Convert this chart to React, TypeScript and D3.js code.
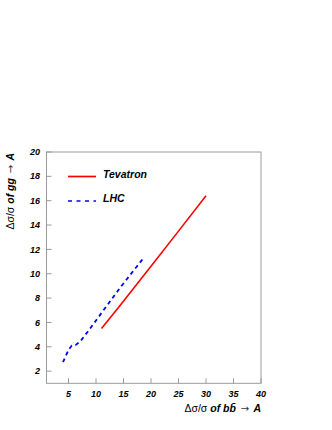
import React, { useRef, useEffect } from 'react'
import * as d3 from 'd3'

// Tevatron curve (solid red)
const tevX = [11, 14.3, 20, 25, 30]
const tevY = [5.5, 7.35, 10.62, 13.5, 16.4]

// LHC curve (dashed blue)
const lhcX = [4, 5, 5.6, 6.3, 7.1, 8.5, 14.3, 18.6]
const lhcY = [2.73, 3.74, 4.1, 4.15, 4.42, 5.24, 8.8, 11.27]

const xTicks = [5, 10, 15, 20, 25, 30, 35, 40]
const yTicks = [2, 4, 6, 8, 10, 12, 14, 16, 18, 20]

const legendNames = ['Tevatron', 'LHC']

export default function App() {
  const ref = useRef<SVGSVGElement>(null)

  useEffect(() => {
    const width = 332
    const height = 430
    const frame = { left: 46.5, right: 261, top: 152, bottom: 383.3 }

    const svg = d3.select(ref.current)
    svg.selectAll('*').remove()
    svg.attr('width', width).attr('height', height)

    const x = d3.scaleLinear().domain([1, 40]).range([frame.left, frame.right])
    const y = d3.scaleLinear().domain([1, 20]).range([frame.bottom, frame.top])

    const frameColor = '#9a9a9a'
    const labelFont = '"Liberation Sans", Arial, sans-serif'

    // frame
    svg.append('rect')
      .attr('x', frame.left)
      .attr('y', frame.top)
      .attr('width', frame.right - frame.left)
      .attr('height', frame.bottom - frame.top)
      .attr('fill', 'none')
      .attr('stroke', frameColor)
      .attr('stroke-width', 1)

    // y ticks + labels
    const yg = svg.append('g')
    yTicks.forEach(t => {
      yg.append('line')
        .attr('x1', frame.left).attr('x2', frame.left + 5)
        .attr('y1', y(t)).attr('y2', y(t))
        .attr('stroke', frameColor)
      yg.append('text')
        .attr('x', 40)
        .attr('y', y(t))
        .attr('dy', '0.35em')
        .attr('text-anchor', 'end')
        .attr('font-family', labelFont)
        .attr('font-weight', 'bold')
        .attr('font-style', 'italic')
        .attr('font-size', 9)
        .text(t)
    })

    // x ticks + labels
    const xg = svg.append('g')
    xTicks.forEach(t => {
      xg.append('line')
        .attr('x1', x(t)).attr('x2', x(t))
        .attr('y1', frame.bottom).attr('y2', frame.bottom - 5)
        .attr('stroke', frameColor)
      xg.append('text')
        .attr('x', x(t))
        .attr('y', 397)
        .attr('text-anchor', 'middle')
        .attr('font-family', labelFont)
        .attr('font-weight', 'bold')
        .attr('font-style', 'italic')
        .attr('font-size', 9)
        .text(t)
    })

    // curves
    const line = d3.line<[number, number]>()
      .x(d => x(d[0]))
      .y(d => y(d[1]))

    svg.append('path')
      .attr('d', line(tevX.map((v, i) => [v, tevY[i]] as [number, number])))
      .attr('fill', 'none')
      .attr('stroke', '#ff0000')
      .attr('stroke-width', 1.6)

    svg.append('path')
      .attr('d', line(lhcX.map((v, i) => [v, lhcY[i]] as [number, number])))
      .attr('fill', 'none')
      .attr('stroke', '#0000ff')
      .attr('stroke-width', 1.8)
      .attr('stroke-dasharray', '4,3.5')

    // legend
    const legendStyles = [
      { color: '#ff0000', dash: null, y: 176.5 },
      { color: '#0000ff', dash: '4,4.5', y: 201 },
    ]
    legendNames.forEach((name, i) => {
      const s = legendStyles[i]
      svg.append('line')
        .attr('x1', 68).attr('x2', 96)
        .attr('y1', s.y).attr('y2', s.y)
        .attr('stroke', s.color)
        .attr('stroke-width', 1.7)
        .attr('stroke-dasharray', s.dash)
      svg.append('text')
        .attr('x', 103)
        .attr('y', s.y + 1)
        .attr('font-family', labelFont)
        .attr('font-weight', 'bold')
        .attr('font-style', 'italic')
        .attr('font-size', 10.5)
        .text(name)
    })

    // axis titles
    const arrowFont = '"DejaVu Sans", sans-serif'
    const xTitle = svg.append('text')
      .attr('x', frame.right)
      .attr('y', 412)
      .attr('text-anchor', 'end')
      .attr('font-family', labelFont)
      .attr('font-size', 10.5)
    xTitle.append('tspan').text('Δσ/σ ')
    xTitle.append('tspan').attr('font-weight', 'bold').attr('font-style', 'italic').text('of bb\u0304 ')
    xTitle.append('tspan').attr('dx', 2).attr('font-family', arrowFont).attr('font-size', 10).attr('fill', '#333').text('\u2192 ')
    xTitle.append('tspan').attr('dx', 1).attr('font-weight', 'bold').attr('font-style', 'italic').text('A')

    const yTitle = svg.append('text')
      .attr('transform', `translate(14,${frame.top + 1}) rotate(-90)`)
      .attr('text-anchor', 'end')
      .attr('font-family', labelFont)
      .attr('font-size', 10.5)
    yTitle.append('tspan').text('Δσ/σ ')
    yTitle.append('tspan').attr('font-weight', 'bold').attr('font-style', 'italic').text('of gg ')
    yTitle.append('tspan').attr('dx', 2).attr('font-family', arrowFont).attr('font-size', 10).attr('fill', '#333').text('\u2192 ')
    yTitle.append('tspan').attr('dx', 1).attr('font-weight', 'bold').attr('font-style', 'italic').text('A')
  }, [])

  return (
    <svg ref={ref} style={{ position: 'absolute', left: 0, top: 0, background: '#fff' }}></svg>
  )
}
